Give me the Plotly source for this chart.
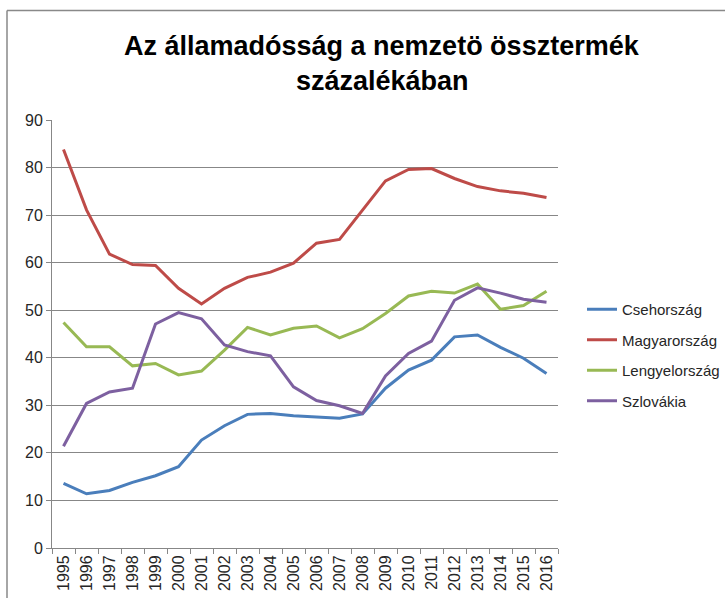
import plotly.graph_objects as go

years = [str(y) for y in range(1995, 2017)]

cseh = [13.6, 11.4, 12.1, 13.8, 15.2, 17.1, 22.7, 25.7, 28.1, 28.3, 27.8,
        27.5, 27.3, 28.2, 33.6, 37.4, 39.5, 44.4, 44.8, 42.2, 39.9, 36.7]
magyar = [83.8, 71.1, 61.8, 59.6, 59.4, 54.6, 51.3, 54.6, 56.9, 58.0, 59.9,
          64.1, 64.9, 71.1, 77.2, 79.6, 79.8, 77.7, 76.0, 75.1, 74.6, 73.7]
lengyel = [47.4, 42.3, 42.3, 38.3, 38.8, 36.4, 37.2, 41.6, 46.4, 44.8, 46.2,
           46.7, 44.2, 46.1, 49.3, 53.0, 54.0, 53.6, 55.5, 50.2, 51.0, 54.0]
szlovak = [21.4, 30.4, 32.8, 33.6, 47.1, 49.5, 48.2, 42.7, 41.3, 40.4, 33.9,
           31.0, 29.9, 28.3, 36.2, 40.9, 43.5, 52.1, 54.7, 53.6, 52.3, 51.7]

series = [
    ("Csehország", cseh, "#4A7EBB"),
    ("Magyarország", magyar, "#BE4B48"),
    ("Lengyelország", lengyel, "#98B954"),
    ("Szlovákia", szlovak, "#7D60A0"),
]

title_lines = ["Az államadósság a nemzetö össztermék", "százalékában"]

FONT = "Liberation Sans"

fig = go.Figure()
for i, (name, vals, col) in enumerate(series):
    fig.add_trace(go.Scatter(
        x=years, y=vals, mode="lines", name=name,
        line=dict(color=col, width=3), legendgroup=str(i)))

W, H = 725, 598
L, R, T, B = 52, 558, 120, 548
pw, ph = R - L, B - T


def px(x):
    return (x - L) / pw


def py(y):
    return (B - y) / ph


fig.update_layout(
    width=W, height=H,
    margin=dict(l=L, r=W - R, t=T, b=H - B, autoexpand=False),
    paper_bgcolor="white", plot_bgcolor="white",
    font=dict(family=FONT, size=15, color="#262626"),
    showlegend=True,
    legend=dict(x=px(582), y=py(293), xanchor="left", yanchor="top",
                font=dict(size=15, family=FONT), tracegroupgap=8,
                traceorder="grouped", bgcolor="rgba(0,0,0,0)"),
    xaxis=dict(type="category", range=[-0.5, 21.5], tickangle=-90,
               automargin=False,
               showline=True, linecolor="#878787", linewidth=1,
               ticks="outside", tickson="boundaries", ticklen=5,
               tickcolor="#878787", showgrid=False,
               tickfont=dict(size=16, family=FONT)),
    yaxis=dict(range=[0, 90], dtick=10, showline=True, linecolor="#878787",
               automargin=False,
               linewidth=1, ticks="outside", ticklen=5, tickcolor="#878787",
               gridcolor="#878787", gridwidth=1, zeroline=False,
               tickfont=dict(size=16, family=FONT)),
    shapes=[
        dict(type="line", xref="paper", yref="paper",
             x0=px(7), x1=px(7), y0=py(598), y1=py(10.5),
             line=dict(color="#898989", width=1.5)),
        dict(type="line", xref="paper", yref="paper",
             x0=px(7), x1=px(725), y0=py(10.5), y1=py(10.5),
             line=dict(color="#898989", width=1.5)),
    ],
    annotations=[
        dict(text=f"<b>{title_lines[0]}</b>", xref="paper", yref="paper",
             x=px(382), y=py(46), showarrow=False, xanchor="center",
             yanchor="middle", font=dict(size=27, family=FONT, color="black")),
        dict(text=f"<b>{title_lines[1]}</b>", xref="paper", yref="paper",
             x=px(382), y=py(81), showarrow=False, xanchor="center",
             yanchor="middle", font=dict(size=27, family=FONT, color="black")),
    ],
)

fig.write_html(
    "out.html",
    config={"displayModeBar": False},
    post_script="document.body.style.margin='0';document.body.style.padding='0';"
                "document.documentElement.style.overflow='hidden';",
)
